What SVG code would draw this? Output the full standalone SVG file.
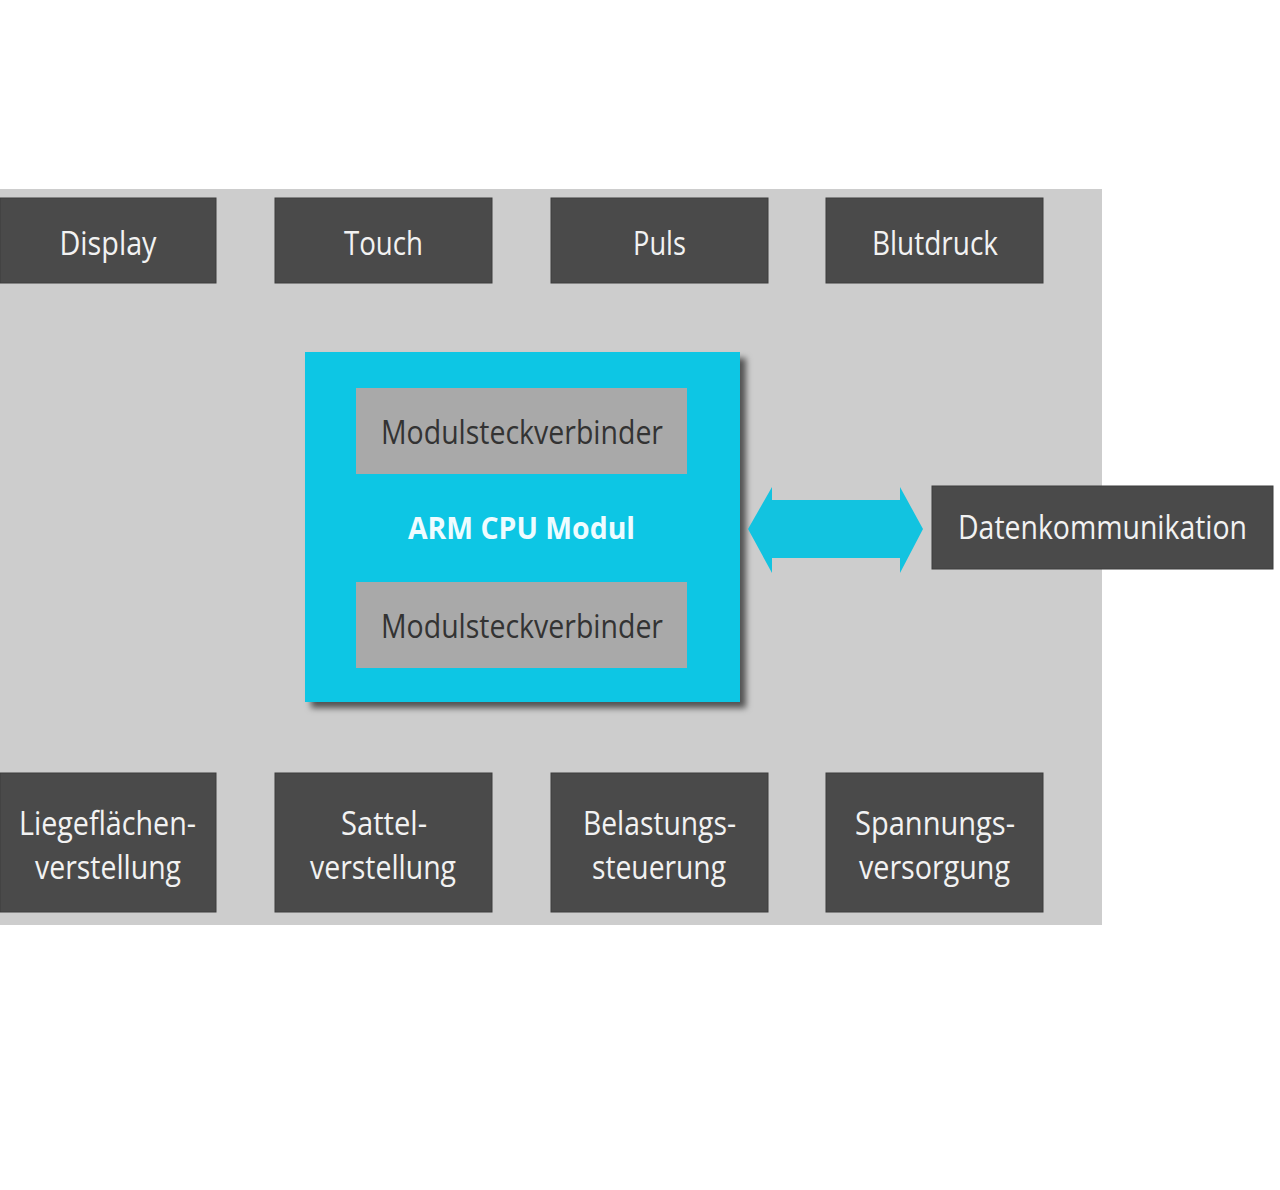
<svg xmlns="http://www.w3.org/2000/svg" width="1280" height="1190" viewBox="0 0 1280 1190">
<style>
.dark{fill:#4a4a4a;stroke:#3c3c3c;stroke-width:1}
.lbl{font-family:"Open Sans","Noto Sans",sans-serif;font-size:32px;fill:#f2f2f2;text-anchor:middle}
.conn{fill:#a9a9a9}
.clbl{font-family:"Open Sans","Noto Sans",sans-serif;font-size:32px;fill:#333333;text-anchor:middle}
.cpu{font-family:"Open Sans","Noto Sans",sans-serif;font-size:31px;font-weight:bold;fill:#eefcff;text-anchor:middle}
</style>
<defs>
<filter id="sh" x="-10%" y="-10%" width="125%" height="125%">
<feDropShadow dx="6" dy="6" stdDeviation="3" flood-color="#000" flood-opacity="0.6"/>
</filter>
</defs>
<rect width="1280" height="1190" fill="#ffffff"/>
<rect id="board" x="0" y="189" width="1102" height="736" fill="#cdcdcd"/>

<g id="display"><rect class="dark" x="0" y="198" width="216" height="85"/><text class="lbl" x="108" y="255" textLength="97" lengthAdjust="spacingAndGlyphs">Display</text></g>
<g id="touch"><rect class="dark" x="275" y="198" width="217" height="85"/><text class="lbl" x="383.5" y="255" textLength="79" lengthAdjust="spacingAndGlyphs">Touch</text></g>
<g id="puls"><rect class="dark" x="551" y="198" width="217" height="85"/><text class="lbl" x="659.5" y="255" textLength="53" lengthAdjust="spacingAndGlyphs">Puls</text></g>
<g id="blutdruck"><rect class="dark" x="826" y="198" width="217" height="85"/><text class="lbl" x="935" y="255" textLength="126" lengthAdjust="spacingAndGlyphs">Blutdruck</text></g>

<g id="cpu-modul">
<rect x="305" y="352" width="435" height="350" fill="#0cc6e4" filter="url(#sh)"/>
<g id="connector-top"><rect class="conn" x="356" y="388" width="331" height="86"/><text class="clbl" x="522" y="444" textLength="282" lengthAdjust="spacingAndGlyphs">Modulsteckverbinder</text></g>
<text class="cpu" x="521.5" y="539" textLength="227" lengthAdjust="spacingAndGlyphs">ARM CPU Modul</text>
<g id="connector-bottom"><rect class="conn" x="356" y="582" width="331" height="86"/><text class="clbl" x="522" y="638" textLength="282" lengthAdjust="spacingAndGlyphs">Modulsteckverbinder</text></g>
</g>

<g id="connectors">
<polygon points="748,529 772,487 772,500 900,500 900,487 923,529 900,573 900,558 772,558 772,573" fill="#12c3e0"/>
</g>

<g id="datenkommunikation"><rect class="dark" x="932" y="486" width="341" height="83"/><text class="lbl" x="1102.5" y="539" textLength="289" lengthAdjust="spacingAndGlyphs">Datenkommunikation</text></g>

<g id="liegeflaechen"><rect class="dark" x="0" y="773" width="216" height="139"/><text class="lbl" x="107.5" y="835" textLength="177" lengthAdjust="spacingAndGlyphs">Liegeflächen-</text><text class="lbl" x="108" y="879" textLength="146" lengthAdjust="spacingAndGlyphs">verstellung</text></g>
<g id="sattel"><rect class="dark" x="275" y="773" width="217" height="139"/><text class="lbl" x="384" y="835" textLength="86" lengthAdjust="spacingAndGlyphs">Sattel-</text><text class="lbl" x="383" y="879" textLength="146" lengthAdjust="spacingAndGlyphs">verstellung</text></g>
<g id="belastung"><rect class="dark" x="551" y="773" width="217" height="139"/><text class="lbl" x="659.5" y="835" textLength="153" lengthAdjust="spacingAndGlyphs">Belastungs-</text><text class="lbl" x="659" y="879" textLength="134" lengthAdjust="spacingAndGlyphs">steuerung</text></g>
<g id="spannung"><rect class="dark" x="826" y="773" width="217" height="139"/><text class="lbl" x="935" y="835" textLength="160" lengthAdjust="spacingAndGlyphs">Spannungs-</text><text class="lbl" x="934.5" y="879" textLength="151" lengthAdjust="spacingAndGlyphs">versorgung</text></g>
</svg>
